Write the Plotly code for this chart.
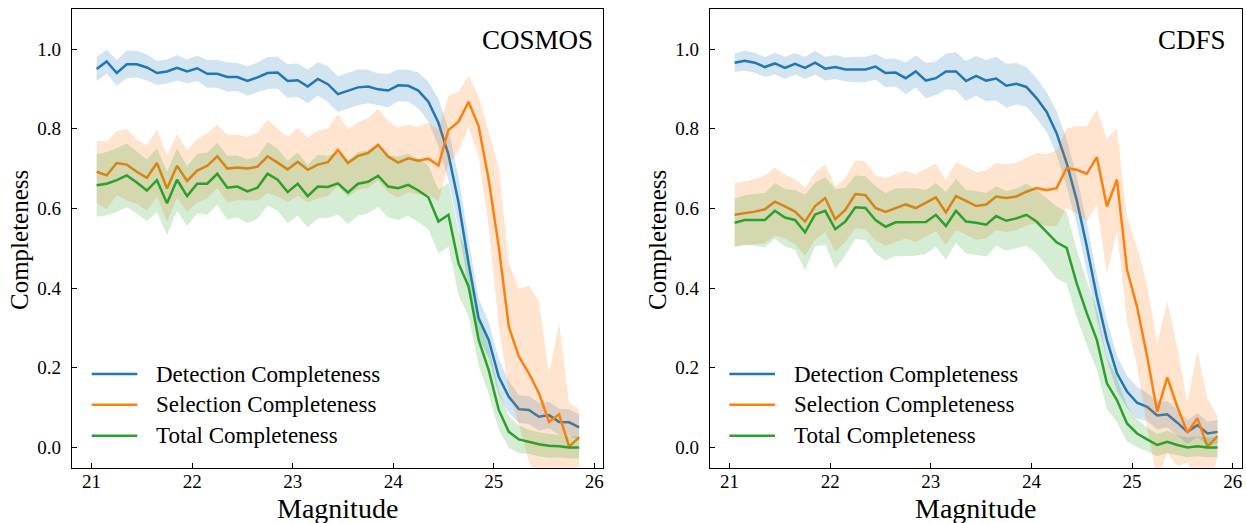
import numpy as np
import plotly.graph_objects as go

# ---------------- data ----------------
magnitudes = [21.05, 21.15, 21.25, 21.35, 21.45, 21.55, 21.65, 21.75, 21.85, 21.95,
              22.05, 22.15, 22.25, 22.35, 22.45, 22.55, 22.65, 22.75, 22.85, 22.95,
              23.05, 23.15, 23.25, 23.35, 23.45, 23.55, 23.65, 23.75, 23.85, 23.95,
              24.05, 24.15, 24.25, 24.35, 24.45, 24.55, 24.65, 24.75, 24.85, 24.95,
              25.05, 25.15, 25.25, 25.35, 25.45, 25.55, 25.65, 25.75, 25.85]

cosmos_detection = [0.950, 0.969, 0.940, 0.962, 0.962, 0.954, 0.940, 0.944, 0.953, 0.944,
                    0.952, 0.938, 0.938, 0.930, 0.930, 0.920, 0.929, 0.940, 0.941, 0.920,
                    0.922, 0.906, 0.925, 0.912, 0.887, 0.896, 0.904, 0.906, 0.899, 0.896,
                    0.909, 0.908, 0.896, 0.868, 0.815, 0.735, 0.615, 0.462, 0.324, 0.270,
                    0.177, 0.127, 0.096, 0.094, 0.077, 0.081, 0.064, 0.063, 0.050]
cosmos_detection_err = [0.030, 0.030, 0.032, 0.035, 0.033, 0.033, 0.030, 0.030, 0.032, 0.030,
                        0.032, 0.035, 0.035, 0.037, 0.035, 0.037, 0.037, 0.040, 0.040, 0.042,
                        0.042, 0.042, 0.042, 0.045, 0.045, 0.045, 0.045, 0.042, 0.040, 0.042,
                        0.040, 0.040, 0.045, 0.050, 0.060, 0.065, 0.065, 0.060, 0.050, 0.045,
                        0.045, 0.040, 0.035, 0.035, 0.035, 0.033, 0.033, 0.033, 0.033]
cosmos_selection = [0.692, 0.683, 0.714, 0.710, 0.692, 0.677, 0.714, 0.650, 0.707, 0.669,
                    0.695, 0.707, 0.731, 0.700, 0.703, 0.700, 0.705, 0.731, 0.715, 0.698,
                    0.717, 0.697, 0.710, 0.716, 0.747, 0.714, 0.732, 0.739, 0.760, 0.730,
                    0.715, 0.726, 0.720, 0.725, 0.708, 0.797, 0.818, 0.868, 0.806, 0.672,
                    0.504, 0.303, 0.228, 0.186, 0.136, 0.064, 0.083, 0.002, 0.025]
cosmos_selection_err = [0.078, 0.085, 0.080, 0.090, 0.080, 0.082, 0.085, 0.082, 0.080, 0.078,
                        0.080, 0.082, 0.080, 0.085, 0.082, 0.080, 0.085, 0.092, 0.085, 0.082,
                        0.085, 0.082, 0.085, 0.085, 0.090, 0.085, 0.085, 0.088, 0.090, 0.090,
                        0.088, 0.085, 0.085, 0.090, 0.090, 0.085, 0.075, 0.065, 0.075, 0.120,
                        0.200, 0.160, 0.170, 0.220, 0.230, 0.120, 0.230, 0.110, 0.070]
cosmos_total = [0.658, 0.662, 0.671, 0.683, 0.665, 0.645, 0.671, 0.613, 0.672, 0.631,
                0.662, 0.662, 0.687, 0.652, 0.655, 0.643, 0.652, 0.687, 0.672, 0.641,
                0.662, 0.631, 0.655, 0.654, 0.663, 0.640, 0.662, 0.667, 0.682, 0.655,
                0.651, 0.659, 0.645, 0.628, 0.567, 0.584, 0.462, 0.404, 0.270, 0.194,
                0.094, 0.039, 0.020, 0.014, 0.008, 0.004, 0.003, 0.000, 0.000]
cosmos_total_err = [0.078, 0.080, 0.080, 0.080, 0.078, 0.078, 0.080, 0.080, 0.078, 0.075,
                    0.075, 0.078, 0.078, 0.080, 0.078, 0.080, 0.078, 0.080, 0.078, 0.078,
                    0.080, 0.078, 0.080, 0.078, 0.078, 0.080, 0.080, 0.080, 0.078, 0.078,
                    0.080, 0.078, 0.080, 0.080, 0.080, 0.080, 0.080, 0.075, 0.065, 0.060,
                    0.050, 0.040, 0.035, 0.030, 0.030, 0.030, 0.028, 0.028, 0.028]

cdfs_detection = [0.966, 0.971, 0.966, 0.955, 0.964, 0.953, 0.963, 0.953, 0.966, 0.951,
                  0.955, 0.949, 0.949, 0.949, 0.956, 0.940, 0.941, 0.927, 0.944, 0.921,
                  0.927, 0.944, 0.944, 0.920, 0.933, 0.921, 0.926, 0.908, 0.913, 0.905,
                  0.877, 0.843, 0.789, 0.714, 0.621, 0.505, 0.378, 0.270, 0.186, 0.140,
                  0.112, 0.102, 0.080, 0.083, 0.062, 0.039, 0.056, 0.035, 0.039]
cdfs_detection_err = [0.023, 0.025, 0.025, 0.025, 0.027, 0.028, 0.027, 0.028, 0.030, 0.030,
                      0.030, 0.030, 0.032, 0.032, 0.032, 0.035, 0.035, 0.040, 0.040, 0.045,
                      0.042, 0.045, 0.048, 0.050, 0.050, 0.052, 0.055, 0.055, 0.052, 0.050,
                      0.050, 0.050, 0.055, 0.060, 0.060, 0.060, 0.055, 0.050, 0.045, 0.040,
                      0.040, 0.035, 0.035, 0.033, 0.033, 0.030, 0.030, 0.030, 0.030]
cdfs_selection = [0.584, 0.588, 0.592, 0.598, 0.617, 0.605, 0.592, 0.567, 0.606, 0.626,
                  0.573, 0.596, 0.636, 0.633, 0.601, 0.591, 0.601, 0.610, 0.601, 0.615,
                  0.628, 0.590, 0.631, 0.619, 0.606, 0.610, 0.630, 0.626, 0.630, 0.642,
                  0.651, 0.646, 0.651, 0.701, 0.697, 0.687, 0.729, 0.605, 0.672, 0.446,
                  0.353, 0.228, 0.090, 0.176, 0.102, 0.037, 0.073, 0.002, 0.028]
cdfs_selection_err = [0.080, 0.080, 0.082, 0.085, 0.085, 0.080, 0.082, 0.085, 0.085, 0.085,
                      0.082, 0.080, 0.085, 0.085, 0.082, 0.085, 0.085, 0.085, 0.085, 0.085,
                      0.085, 0.082, 0.085, 0.085, 0.085, 0.085, 0.085, 0.085, 0.085, 0.085,
                      0.088, 0.090, 0.095, 0.100, 0.110, 0.120, 0.120, 0.170, 0.130, 0.130,
                      0.150, 0.180, 0.170, 0.190, 0.150, 0.075, 0.170, 0.120, 0.050]
cdfs_total = [0.564, 0.571, 0.571, 0.571, 0.594, 0.577, 0.571, 0.540, 0.585, 0.594,
              0.548, 0.567, 0.603, 0.601, 0.571, 0.554, 0.565, 0.565, 0.566, 0.566,
              0.584, 0.556, 0.594, 0.567, 0.564, 0.559, 0.581, 0.569, 0.575, 0.584,
              0.567, 0.542, 0.515, 0.501, 0.412, 0.337, 0.270, 0.161, 0.119, 0.060,
              0.035, 0.020, 0.006, 0.014, 0.006, 0.000, 0.003, 0.000, 0.000]
cdfs_total_err = [0.060, 0.062, 0.065, 0.068, 0.070, 0.072, 0.075, 0.095, 0.080, 0.085,
                  0.100, 0.085, 0.080, 0.080, 0.085, 0.085, 0.085, 0.085, 0.085, 0.080,
                  0.080, 0.085, 0.080, 0.080, 0.080, 0.080, 0.075, 0.075, 0.075, 0.078,
                  0.080, 0.085, 0.090, 0.090, 0.085, 0.080, 0.075, 0.065, 0.055, 0.045,
                  0.035, 0.030, 0.028, 0.028, 0.025, 0.025, 0.025, 0.025, 0.025]

series_names = ["Detection Completeness", "Selection Completeness", "Total Completeness"]
field_names = ["COSMOS", "CDFS"]
x_ticks = [21, 22, 23, 24, 25, 26]
y_ticks = [0.0, 0.2, 0.4, 0.6, 0.8, 1.0]

# ---------------- style ----------------
W, H = 1246, 523
FONT = "Liberation Serif"
colors = ["#1f77b4", "#ff7f0e", "#2ca02c"]
fills = ["rgba(31,119,180,0.2)", "rgba(255,127,14,0.2)", "rgba(44,160,44,0.2)"]
LW = 2.5

panels = [
    dict(xaxis="x", yaxis="y",
         series=[(cosmos_detection, cosmos_detection_err),
                 (cosmos_selection, cosmos_selection_err),
                 (cosmos_total, cosmos_total_err)]),
    dict(xaxis="x2", yaxis="y2",
         series=[(cdfs_detection, cdfs_detection_err),
                 (cdfs_selection, cdfs_selection_err),
                 (cdfs_total, cdfs_total_err)]),
]

fig = go.Figure()
x = np.array(magnitudes)
for p in panels:
    for i, (vals, err) in enumerate(p["series"]):
        v = np.array(vals)
        e = np.array(err)
        fig.add_trace(go.Scatter(x=x, y=v + e, mode="lines", line=dict(width=0),
                                 showlegend=False, hoverinfo="skip",
                                 xaxis=p["xaxis"], yaxis=p["yaxis"]))
        fig.add_trace(go.Scatter(x=x, y=v - e, mode="lines", line=dict(width=0),
                                 fill="tonexty", fillcolor=fills[i],
                                 showlegend=False, hoverinfo="skip",
                                 xaxis=p["xaxis"], yaxis=p["yaxis"]))
        fig.add_trace(go.Scatter(x=x, y=v, mode="lines", name=series_names[i],
                                 line=dict(color=colors[i], width=LW),
                                 showlegend=False,
                                 xaxis=p["xaxis"], yaxis=p["yaxis"]))

def px_x(px):
    return px / W

def px_y(py):
    return 1 - py / H

axis_common = dict(showline=True, linecolor="black", linewidth=1.2, mirror=True,
                   showgrid=False, zeroline=False, ticks="inside", ticklen=5,
                   tickwidth=1, tickcolor="black",
                   tickfont=dict(family=FONT, size=19, color="black"))

ydom = [px_y(467.7), px_y(9.3)]
fig.update_layout(
    width=W, height=H,
    margin=dict(l=0, r=0, t=0, b=0),
    paper_bgcolor="white", plot_bgcolor="white",
    showlegend=False,
    xaxis=dict(domain=[px_x(72), px_x(603.3)], range=[20.805, 26.09],
               tickvals=x_ticks, ticktext=[str(t) for t in x_ticks],
               anchor="y", ticklabelstandoff=-4, **axis_common),
    yaxis=dict(domain=ydom, range=[-0.051, 1.10],
               tickvals=y_ticks, ticktext=[f"{t:.1f}" for t in y_ticks],
               anchor="x", ticklabelstandoff=6, **axis_common),
    xaxis2=dict(domain=[px_x(710), px_x(1241.7)], range=[20.805, 26.09],
                tickvals=x_ticks, ticktext=[str(t) for t in x_ticks],
                anchor="y2", ticklabelstandoff=-4, **axis_common),
    yaxis2=dict(domain=ydom, range=[-0.051, 1.10],
                tickvals=y_ticks, ticktext=[f"{t:.1f}" for t in y_ticks],
                anchor="x2", ticklabelstandoff=6, **axis_common),
)

annotations = []
shapes = []
panel_px = [dict(x0=72, x1=603.3, title_right=595, ylab=20, leg_line=(91.7, 137.3), leg_text=154.3),
            dict(x0=710, x1=1241.7, title_right=1228, ylab=658, leg_line=(729.3, 775), leg_text=792.3)]
rows = [374, 404.7, 435.7]
for j, pp in enumerate(panel_px):
    annotations.append(dict(text=field_names[j], x=px_x(pp["title_right"]), y=px_y(40),
                            xref="paper", yref="paper", xanchor="right", yanchor="middle",
                            showarrow=False, font=dict(family=FONT, size=27, color="black")))
    annotations.append(dict(text="Completeness", x=px_x(pp["ylab"]), y=px_y(240),
                            xref="paper", yref="paper", xanchor="center", yanchor="middle",
                            textangle=-90, showarrow=False,
                            font=dict(family=FONT, size=25, color="black")))
    annotations.append(dict(text="Magnitude", x=px_x((pp["x0"] + pp["x1"]) / 2), y=px_y(508),
                            xref="paper", yref="paper", xanchor="center", yanchor="middle",
                            showarrow=False, font=dict(family=FONT, size=28, color="black")))
    for i, name in enumerate(series_names):
        shapes.append(dict(type="line", xref="paper", yref="paper",
                           x0=px_x(pp["leg_line"][0]), x1=px_x(pp["leg_line"][1]),
                           y0=px_y(rows[i]), y1=px_y(rows[i]),
                           line=dict(color=colors[i], width=LW)))
        annotations.append(dict(text=name, x=px_x(pp["leg_text"]), y=px_y(rows[i]),
                                xref="paper", yref="paper", xanchor="left", yanchor="middle",
                                showarrow=False, font=dict(family=FONT, size=23, color="black")))

fig.update_layout(annotations=annotations, shapes=shapes)
fig.write_html("out.html")
